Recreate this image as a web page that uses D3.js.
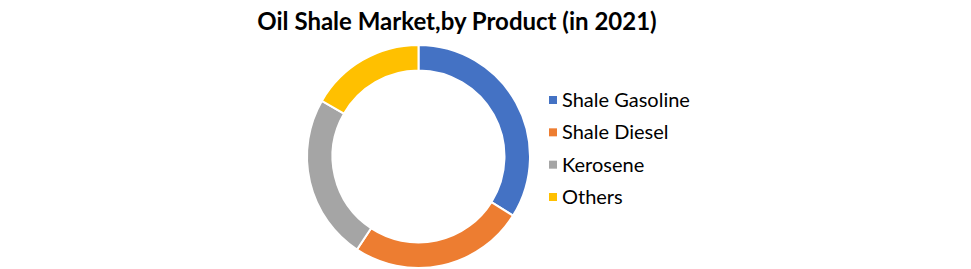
<!DOCTYPE html>
<html>
<head>
<meta charset="utf-8">
<script src="https://cdn.jsdelivr.net/npm/d3@7"></script>
<style>
  body { margin: 0; background: #fff; }
  text { font-family: Lato, "Open Sans", sans-serif; }
</style>
</head>
<body>
<div id="chart"></div>
<script>
// values (share of market, %)
const products = ["Shale Gasoline", "Shale Diesel", "Kerosene", "Others"];
const shares = [33.9, 25.4, 24.0, 16.7];
const colors = ["#4472C4", "#ED7D31", "#A5A5A5", "#FFC000"];
const title = "Oil Shale Market,by Product (in 2021)";

const width = 971, height = 269;
const cx = 418.5, cy = 156.5, outerR = 111.5, innerR = 86;

const svg = d3.select("#chart").append("svg")
    .attr("width", width)
    .attr("height", height);

svg.append("text")
    .attr("x", 457)
    .attr("y", 30)
    .attr("text-anchor", "middle")
    .style("font-weight", "bold")
    .style("font-size", "24px")
    .text(title);

const color = d3.scaleOrdinal().domain(products).range(colors);

const pie = d3.pie().sort(null).value(d => d.value);
const arc = d3.arc().innerRadius(innerR).outerRadius(outerR);

const data = products.map((p, i) => ({ name: p, value: shares[i] }));

svg.append("g")
    .attr("transform", `translate(${cx},${cy})`)
    .selectAll("path")
    .data(pie(data))
    .join("path")
    .attr("d", arc)
    .attr("fill", d => color(d.data.name))
    .attr("stroke", "#fff")
    .attr("stroke-width", 2);

// legend
const legendY = d3.scalePoint().domain(products).range([100, 197]);
const legend = svg.append("g").selectAll("g")
    .data(products)
    .join("g")
    .attr("transform", d => `translate(549,${legendY(d)})`);

legend.append("rect")
    .attr("x", 0).attr("y", -4)
    .attr("width", 8).attr("height", 8)
    .attr("fill", d => color(d));

legend.append("text")
    .attr("x", 13)
    .attr("y", 0)
    .attr("dy", "0.35em")
    .style("font-size", "20px")
    .text(d => d);
</script>
</body>
</html>
